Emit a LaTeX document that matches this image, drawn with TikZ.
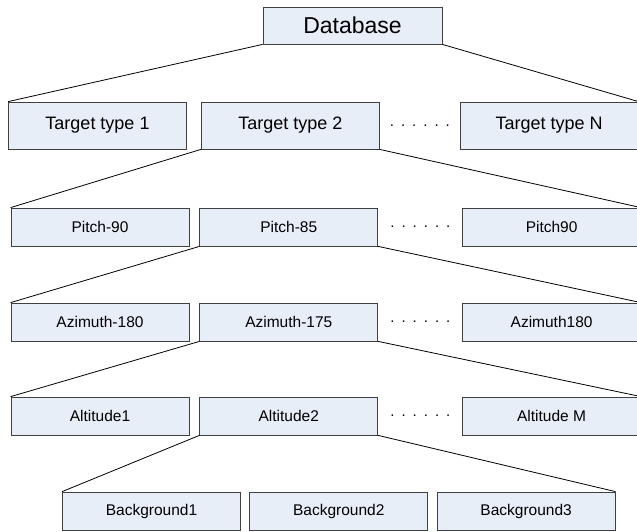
\documentclass[tikz,border=0pt]{standalone}
\usepackage{fontspec}
\setmainfont{Liberation Sans}
\usetikzlibrary{positioning}
\definecolor{boxfill}{RGB}{232,238,247}
\newcommand{\gapdots}{.\hspace{7pt}.\hspace{7pt}.\hspace{7pt}.\hspace{7pt}.\hspace{7pt}.}

\begin{document}
\begin{tikzpicture}[x=1pt, y=-1pt,
  lvbox/.style={draw=black!75, fill=boxfill, line width=0.8pt, minimum width=178pt,
                minimum height=38pt, inner sep=0pt, align=center,
                font=\fontsize{15.5}{18}\selectfont},
  tbox/.style={lvbox, minimum height=47pt, font=\fontsize{18}{21}\selectfont},
  dbbox/.style={lvbox, minimum width=179pt, minimum height=37pt,
                font=\fontsize{23}{27}\selectfont},
  gap/.style={inner sep=0pt, font=\fontsize{15}{18}\selectfont},
  link/.style={line width=0.8pt}
]
\useasboundingbox (0,0) rectangle (637,531);

% root
\node[dbbox] (DB) at (352.5,25.5) {Database};

% target types
\node[tbox] (T1) at (97.5,125.5) {Target type 1};
\node[tbox, right=14pt of T1] (T2) {Target type 2};
\node[tbox, right=80pt of T2] (TN) {Target type N};
\node[gap, right=10pt of T2] (D1) {\gapdots};

% pitch
\node[lvbox] (P1) at (100,227) {Pitch-90};
\node[lvbox, right=10pt of P1] (P2) {Pitch-85};
\node[lvbox, right=84pt of P2] (PN) {Pitch90};
\node[gap, right=12pt of P2] (D2) {\gapdots};

% azimuth
\node[lvbox] (A1) at (100,322) {Azimuth-180};
\node[lvbox, right=10pt of A1] (A2) {Azimuth-175};
\node[lvbox, right=84pt of A2] (AN) {Azimuth180};
\node[gap, right=12pt of A2] (D3) {\gapdots};

% altitude
\node[lvbox] (L1) at (100,416) {Altitude1};
\node[lvbox, right=10pt of L1] (L2) {Altitude2};
\node[lvbox, right=84pt of L2] (LN) {Altitude M};
\node[gap, right=12pt of L2] (D4) {\gapdots};

% background
\node[lvbox] (B1) at (151.5,511) {Background1};
\node[lvbox, right=8.5pt of B1] (B2) {Background2};
\node[lvbox, right=8.5pt of B2] (B3) {Background3};

\draw[link] (DB.south west) -- (T1.north west);
\draw[link] (DB.south east) -- (TN.north east);
\draw[link] (T2.south west) -- (P1.north west);
\draw[link] (T2.south east) -- (PN.north east);
\draw[link] (P2.south west) -- (A1.north west);
\draw[link] (P2.south east) -- (AN.north east);
\draw[link] (A2.south west) -- (L1.north west);
\draw[link] (A2.south east) -- (LN.north east);
\draw[link] (L2.south west) -- (B1.north west);
\draw[link] (L2.south east) -- (B3.north east);
\end{tikzpicture}
\end{document}
